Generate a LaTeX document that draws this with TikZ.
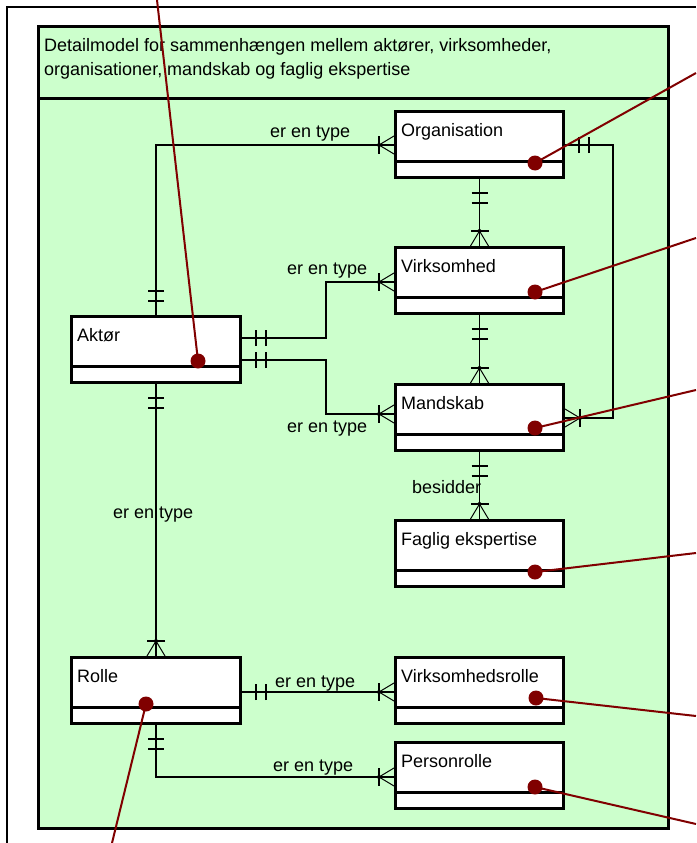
\documentclass[tikz,border=0pt]{standalone}
\usepackage{fontspec}
\setmainfont{Liberation Sans}
\usetikzlibrary{calc}
\definecolor{bg}{RGB}{204,255,204}
\definecolor{callout}{RGB}{128,0,0}
\tikzset{
 entity/.style={draw, fill=white, line width=3pt, minimum width=168pt, minimum height=66pt, inner sep=0pt, anchor=north west},
 etext/.style={anchor=base west, inner sep=0pt, font=\fontsize{18}{20}\selectfont},
 lbl/.style={anchor=base west, inner sep=0pt, font=\fontsize{18}{20}\selectfont},
 rel/.style={line width=1.5pt},
 sepline/.style={line width=3pt},
 callline/.style={draw=callout, line width=2pt},
 calldot/.style={circle, fill=callout, minimum size=15pt, inner sep=0pt},
 pics/many/.style={code={
   \draw[line width=1.5pt] (-15,-9) -- (-15,9);
   \draw[line width=1pt] (0,-9) -- (-15,0) -- (0,9);
   \fill (-15,0) circle (2);}},
 pics/one/.style={code={
   \draw[line width=1.5pt] (-14,-8) -- (-14,8) (-24,-8) -- (-24,8);}},
}
\begin{document}
\begin{tikzpicture}[x=1pt,y=-1pt]
\useasboundingbox (0,0) rectangle (696,843);
% outer frame
\draw[line width=1.5pt] (7,843) -- (7,7) -- (696,7);
% green frame
\node[draw, line width=3pt, fill=bg, minimum width=630pt, minimum height=802pt, anchor=north west, inner sep=0pt] (frame) at (37,25) {};
\draw[line width=3pt] (frame.west |- 0,98) -- (frame.east |- 0,98);
\node[lbl] (title1) at (44,52) {Detailmodel for sammenhængen mellem aktører, virksomheder,};
\node[lbl] (title2) at (44,75) {organisationer, mandskab og faglig ekspertise};
% entities
\node[entity] (org) at (394,110) {};
\node[entity] (virk) at (394,246) {};
\node[entity] (mand) at (394,383) {};
\node[entity] (fag) at (394,519) {};
\node[entity] (vrol) at (394,656) {};
\node[entity] (prol) at (394,741) {};
\node[entity, minimum width=169pt] (akt) at (70,315) {};
\node[entity, minimum width=169pt] (rol) at (70,656) {};
\foreach \n/\t in {org/Organisation, virk/Virksomhed, mand/Mandskab, fag/Faglig ekspertise, vrol/Virksomhedsrolle, prol/Personrolle, akt/Aktør, rol/Rolle} {
 \draw[sepline] ($(\n.north west)+(0,51)$) -- ($(\n.north east)+(0,51)$);
 \node[etext] (\n-t) at ($(\n.north west)+(7,26.5)$) {\t};
}
% relationships
% 1 Aktoer - Organisation
\coordinate (o0) at ($(org.north west)+(0,35)$);
\draw[rel] (akt.north) |- (o0);
\pic[rotate=-90] at (akt.north) {one};
\pic at (o0) {many};
\node[lbl] (l1) at (270,137) {er en type};
% 2 Aktoer - Virksomhed
\coordinate (a1) at ($(akt.north east)+(0,23)$);
\coordinate (v1) at ($(virk.north west)+(0,36)$);
\draw[rel] (a1) -- (a1 -| 326,0) |- (v1);
\pic[rotate=180] at (a1) {one};
\pic at (v1) {many};
\node[lbl] (l2) at (287,274) {er en type};
% 3 Aktoer - Mandskab
\coordinate (a2) at ($(akt.north east)+(0,45)$);
\coordinate (m1) at ($(mand.north west)+(0,31)$);
\draw[rel] (a2) -- (a2 -| 326,0) |- (m1);
\pic[rotate=180] at (a2) {one};
\pic at (m1) {many};
\node[lbl] (l3) at (287,432) {er en type};
% 4 Organisation - Virksomhed
\draw[rel] (org.south) -- (virk.north);
\pic[rotate=90] at (org.south) {one};
\pic[rotate=-90] at (virk.north) {many};
% 5 Virksomhed - Mandskab
\draw[rel] (virk.south) -- (mand.north);
\pic[rotate=90] at (virk.south) {one};
\pic[rotate=-90] at (mand.north) {many};
% 6 Organisation - Mandskab (right side)
\coordinate (o1) at ($(org.north east)+(0,35)$);
\coordinate (m2) at ($(mand.north east)+(0,35)$);
\draw[rel] (o1) -- (o1 -| 613,0) |- (m2);
\pic[rotate=180] at (o1) {one};
\pic[rotate=180] at (m2) {many};
% 7 Mandskab - Faglig ekspertise
\draw[rel] (mand.south) -- (fag.north);
\pic[rotate=90] at (mand.south) {one};
\pic[rotate=-90] at (fag.north) {many};
\node[lbl] (l7) at (412,493) {besidder};
% 8 Aktoer - Rolle
\draw[rel] (akt.south) -- (rol.north);
\pic[rotate=90] at (akt.south) {one};
\pic[rotate=-90] at (rol.north) {many};
\node[lbl] (l8) at (113,518) {er en type};
% 9 Rolle - Virksomhedsrolle
\coordinate (r1) at ($(rol.north east)+(0,36)$);
\coordinate (vr1) at ($(vrol.north west)+(0,36)$);
\draw[rel] (r1) -- (vr1);
\pic[rotate=180] at (r1) {one};
\pic at (vr1) {many};
\node[lbl] (l9) at (275,687) {er en type};
% 10 Rolle - Personrolle
\coordinate (pr1) at ($(prol.north west)+(0,36)$);
\draw[rel] (rol.south) |- (pr1);
\pic[rotate=90] at (rol.south) {one};
\pic at (pr1) {many};
\node[lbl] (l10) at (273,771) {er en type};
% callouts
\foreach \n/\dx/\dy/\ex/\ey in {akt/198/361/157/0, org/535/163/696/73, virk/535/292/696/238, mand/535/428/696/390, fag/535/572/696/553, vrol/536/698/696/716, prol/535/787/696/824, rol/146/704/112/843} {
 \coordinate (e-\n) at (\ex,\ey);
 \draw[callline] (\dx,\dy) -- (e-\n);
 \node[calldot] (d-\n) at (\dx,\dy) {};
}
\end{tikzpicture}
\end{document}
